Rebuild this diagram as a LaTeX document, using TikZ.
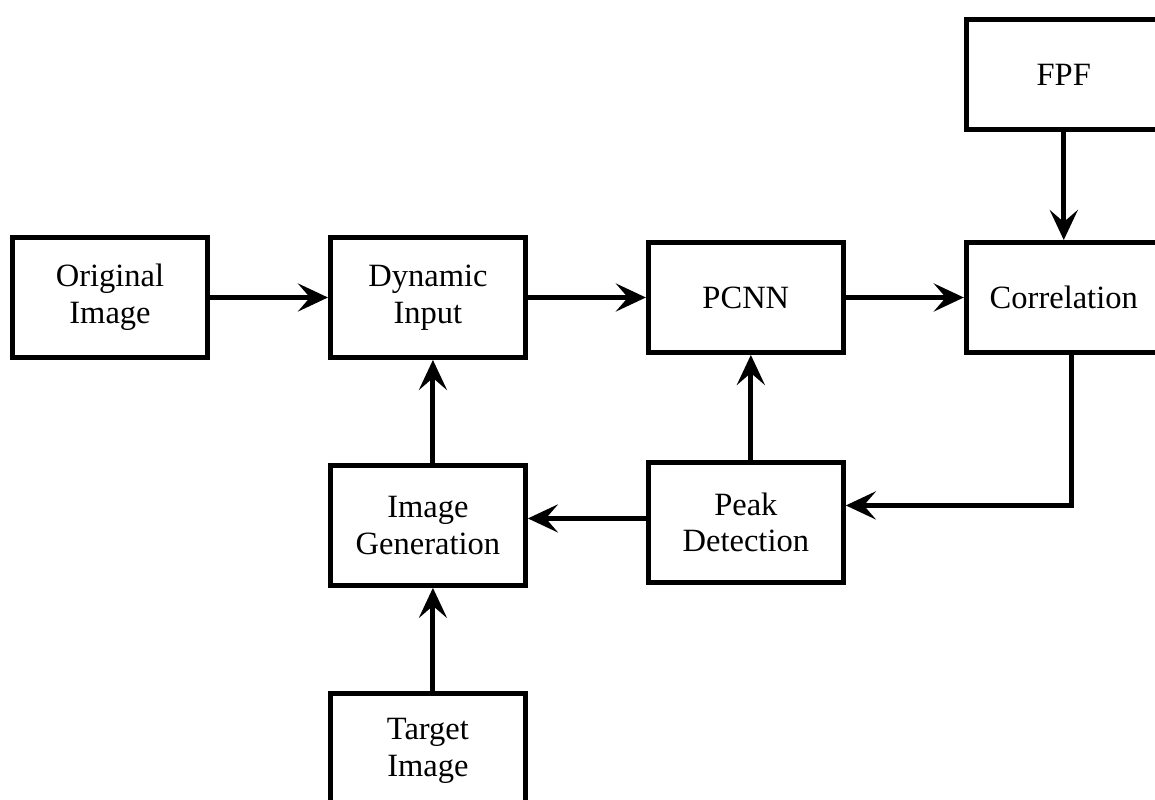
\documentclass[tikz,border=0pt]{standalone}
\usepackage{fontspec}
\setmainfont{Liberation Serif}
\usetikzlibrary{arrows.meta, positioning}
\tikzset{
  block/.style={
    rectangle, draw=black, line width=2.8pt,
    minimum width=3.9cm, minimum height=2.4cm,
    text centered, text width=3.6cm,
    font=\fontsize{18.5}{21}\selectfont
  },
  arrow/.style={-{Stealth[length=0.6cm, width=0.56cm, inset=0.24cm]}, line width=2.8pt},
}

\begin{document}
\begin{tikzpicture}[node distance=2.06cm and 2.36cm]
  \useasboundingbox (0,0) rectangle (23.1,-16);
  \node[block] (orig) at (2.2,-5.95) {Original\\Image};
  \node[block, right=of orig] (dyn) {Dynamic\\Input};
  \node[block, right=of dyn, minimum height=2.2cm] (pcnn) {PCNN};
  \node[block, right=of pcnn, minimum height=2.2cm] (corr) {Correlation};
  \node[block, above=2.16cm of corr, minimum height=2.2cm] (fpf) {FPF};

  \node[block, below=2.1cm of pcnn] (peak) {Peak\\Detection};
  \node[block, below=of dyn] (imggen) {Image\\Generation};
  \node[block, below=of imggen, minimum height=2.3cm] (target) {Target\\Image};

  \draw[arrow] (orig) -- (dyn);
  \draw[arrow] (dyn) -- (pcnn);
  \draw[arrow] (pcnn) -- (corr);
  \draw[arrow] (fpf) -- (corr);
  \draw[arrow] ([xshift=0.15cm]corr.south) |- ([yshift=0.34cm]peak.east);
  \draw[arrow] ([yshift=0.08cm]peak.west) -- ([yshift=0.08cm]peak.west -| imggen.east);
  \draw[arrow] ([xshift=0.1cm]peak.north) -- ([xshift=0.1cm]pcnn.south);
  \draw[arrow] ([xshift=0.1cm]imggen.north) -- ([xshift=0.1cm]dyn.south);
  \draw[arrow] ([xshift=0.1cm]target.north) -- ([xshift=0.1cm]imggen.south);
\end{tikzpicture}
\end{document}
